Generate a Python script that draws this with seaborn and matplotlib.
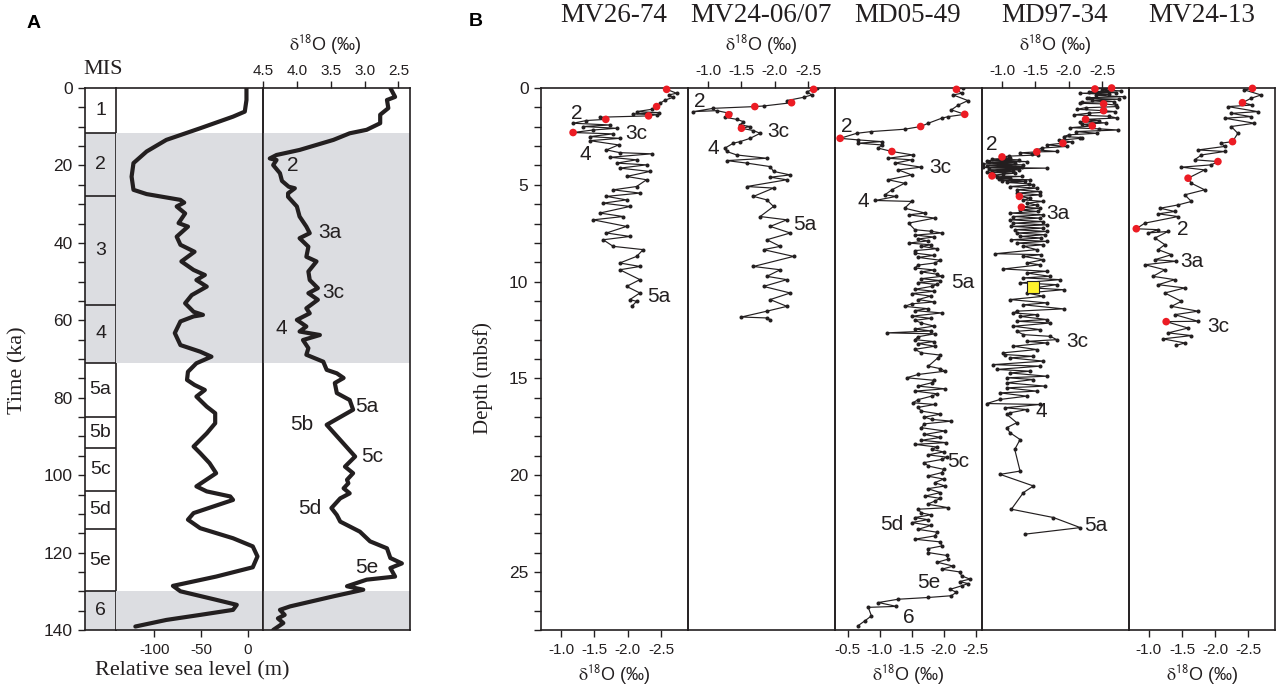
import matplotlib
matplotlib.use("Agg")
import matplotlib.pyplot as plt
from matplotlib.ticker import MultipleLocator, FormatStrFormatter
import seaborn as sns

# ---------------- DATA ----------------
# Panel A : marine isotope stages (ka)
mis_bounds = [0, 11.5, 28, 56, 71, 85, 93, 104, 114, 130, 140]
mis_names = ["1", "2", "3", "4", "5a", "5b", "5c", "5d", "5e", "6"]
glacial_spans = [(11.5, 71), (130, 140)]

# relative sea level (m) vs time (ka)
sl_time = [0, 3.1, 6.1, 7.4, 10.4, 13.4, 16.4, 19.4, 22.9, 26.3, 27.4, 28.9, 29.6, 30.6, 32.4,
           34.9, 35.8, 38.4, 40.5, 42.3, 44.8, 47.0, 48.3, 49.6, 51.3, 53.5, 55.6, 57.8, 58.6, 59.0,
           60.3, 63.3, 66.4, 68.1, 69.4, 71.1, 73.3, 75.4, 76.7, 78.0, 79.7, 82.3, 84.0, 86.6, 89.2,
           92.6, 94.3, 96.9, 99.5, 102.9, 104.2, 105.5, 106.4, 108.1, 109.8, 111.5, 113.7, 116.3, 118.4, 121.0,
           123.8, 126.2, 128.6, 130.0, 132.2, 133.5, 134.8, 136.1, 137.4, 139.1]
sl_level = [-1.7, -1.7, -3.5, -16, -51, -87, -108, -122, -124, -122, -108, -72, -68, -76, -67,
            -74, -64, -76, -72, -57, -71, -58, -46, -55, -44, -60, -67, -58, -48, -58,
            -72, -78, -72, -51, -39, -55, -64, -65, -57, -46, -55, -44, -35, -35, -44,
            -58, -51, -41, -34, -55, -44, -19, -16, -37, -58, -64, -51, -16, 5, 10,
            5, -34, -80, -72, -34, -12, -16, -51, -87, -120]

# benthic d18O stack (per mil) vs time (ka)
bd_time = [0, 2.3, 3.1, 5.2, 6.9, 9.1, 10.8, 11.7, 13.4, 16.0, 17.3, 18.2, 18.6, 19.9, 22.0,
           24.0, 25.5, 25.9, 27.2, 28.1, 30.6, 33.2, 35.8, 37.5, 38.8, 41.0, 43.6, 44.8, 47.4, 49.6,
           51.7, 53.0, 54.7, 56.9, 58.2, 59.9, 61.6, 62.9, 63.8, 65.1, 67.2, 68.9, 70.7, 72.8, 73.7,
           74.9, 76.2, 78.8, 80.6, 83.1, 84.0, 87.0, 90.9, 95.2, 97.8, 99.5, 101.2, 102.1, 103.4, 104.7,
           106.0, 108.5, 110.3, 112.0, 114.6, 117.1, 118.9, 121.4, 122.8, 124.0, 126.2, 127.0, 128.7, 129.6, 131.3,
           133.9, 134.8, 136.1, 137.0, 138.2, 140.0]
bd_value = [2.62, 2.55, 2.67, 2.65, 2.77, 2.77, 2.97, 3.22, 3.46, 3.96, 4.30, 4.40, 4.30, 4.35, 4.25,
            4.22, 4.12, 4.03, 4.13, 4.13, 4.00, 3.96, 3.86, 3.81, 3.96, 3.83, 3.86, 3.71, 3.83, 3.81,
            3.69, 3.83, 3.69, 3.86, 3.81, 4.00, 3.86, 3.96, 3.66, 3.91, 3.83, 3.86, 3.61, 3.56, 3.41,
            3.31, 3.44, 3.41, 3.22, 3.17, 3.26, 3.56, 3.36, 3.14, 3.29, 3.17, 3.26, 3.24, 3.31, 3.22,
            3.36, 3.49, 3.41, 3.36, 3.07, 2.92, 2.67, 2.62, 2.45, 2.62, 2.55, 2.97, 3.26, 3.02, 3.46,
            4.10, 4.25, 4.18, 4.28, 4.20, 4.35]

bd_labels = ["2", "3a", "3c", "4", "5a", "5b", "5c", "5d", "5e"]
bd_label_v = [4.06, 3.51, 3.46, 4.23, 2.97, 3.93, 2.89, 3.81, 2.97]
bd_label_t = [19.9, 37.4, 52.7, 62.0, 82.3, 87.0, 95.3, 108.5, 123.8]

# Panel B : cores, d18O (per mil) vs depth (mbsf)
cores = ["MV26-74", "MV24-06/07", "MD05-49", "MD97-34", "MV24-13"]

mv2674_v = [-2.58, -2.73, -2.61, -2.68, -2.56, -2.48, -2.43, -2.36, -2.13, -2.46, -2.08, -2.43, -2.31, -1.58,
            -1.67, -1.38, -1.18, -1.73, -1.33, -1.83, -1.48, -1.18, -1.78, -1.43, -1.88, -1.43, -1.86, -1.68,
            -1.88, -2.36, -1.73, -2.13, -1.83, -2.28, -1.88, -2.33, -1.98, -2.28, -2.13, -1.78, -2.18, -1.68,
            -1.98, -1.63, -2.03, -1.58, -1.93, -1.48, -1.98, -1.68, -2.03, -1.63, -1.78, -2.23, -2.13, -1.88,
            -2.18, -1.88, -2.18, -1.98, -2.18, -2.03, -2.13, -2.06]
mv2674_d = [0.07, 0.27, 0.36, 0.48, 0.62, 0.79, 0.96, 1.10, 1.22, 1.27, 1.34, 1.38, 1.44, 1.51,
            1.62, 1.68, 1.82, 1.91, 1.99, 2.08, 2.17, 2.30, 2.37, 2.51, 2.60, 2.72, 2.94, 3.20,
            3.34, 3.40, 3.58, 3.71, 3.88, 3.97, 4.14, 4.31, 4.57, 4.74, 5.09, 5.26, 5.43, 5.60,
            5.78, 5.95, 6.12, 6.46, 6.64, 6.81, 7.15, 7.49, 7.67, 7.84, 8.18, 8.35, 8.70, 9.04,
            9.22, 9.39, 9.90, 10.25, 10.59, 10.93, 11.02, 11.28]
mv2674_red_v = [-2.58, -2.43, -2.31, -1.67, -1.18]
mv2674_red_d = [0.07, 0.96, 1.44, 1.62, 2.30]

mv2407_v = [-2.63, -2.58, -2.48, -2.55, -2.43, -2.18, -2.25, -1.83, -1.70, -1.08, -0.78, -1.13, -1.33, -1.31,
            -1.25, -1.43, -1.53, -1.48, -1.63, -1.50, -1.68, -1.78, -1.63, -1.48, -1.38, -1.25, -1.28, -1.43,
            -1.88, -1.28, -1.58, -1.93, -1.98, -2.23, -1.93, -2.18, -1.58, -1.98, -1.68, -1.88, -1.98, -1.78,
            -2.18, -1.93, -2.23, -1.88, -2.08, -1.83, -2.28, -1.68, -2.08, -1.88, -2.18, -1.83, -2.23, -1.93,
            -2.18, -1.88, -1.50, -1.88, -1.93]
mv2407_d = [0.00, 0.07, 0.19, 0.36, 0.48, 0.65, 0.76, 0.93, 0.96, 1.05, 1.22, 1.17, 1.31, 1.38,
            1.51, 1.62, 1.74, 1.91, 1.99, 2.08, 2.20, 2.34, 2.60, 2.77, 2.85, 3.11, 3.28, 3.46,
            3.63, 3.75, 3.88, 4.06, 4.31, 4.49, 4.61, 4.74, 5.09, 5.17, 5.60, 5.78, 6.12, 6.64,
            6.81, 7.15, 7.49, 7.84, 8.18, 8.35, 8.70, 9.22, 9.39, 9.73, 9.90, 10.25, 10.59, 10.93,
            11.28, 11.53, 11.83, 11.88, 11.97]
mv2407_red_v = [-2.58, -2.25, -1.70, -1.31, -1.50]
mv2407_red_d = [0.07, 0.76, 0.96, 1.38, 2.08]

md0549_d = [0.00, 0.07, 0.27, 0.36, 0.65, 0.88, 1.13, 1.36, 1.48, 1.56, 1.82, 1.99, 2.13, 2.25,
            2.34, 2.60, 2.68, 2.77, 2.85, 2.94, 3.11, 3.28, 3.46, 3.63, 3.71, 3.88, 4.09, 4.23,
            4.49, 4.74, 4.92, 5.26, 5.52, 5.60, 5.81, 5.86, 6.21, 6.46, 6.55, 6.72, 6.98,
            7.32, 7.40, 7.49, 7.60, 7.70, 7.80, 7.90, 8.01, 8.10, 8.18, 8.30, 8.40, 8.53, 8.65, 8.75, 8.90,
            9.04, 9.15, 9.30, 9.40, 9.50, 9.62, 9.73, 9.85, 9.95, 10.05, 10.15, 10.25, 10.40, 10.50, 10.62,
            10.75, 10.93, 11.05, 11.15, 11.28, 11.40, 11.50, 11.62, 11.79, 11.90, 12.00, 12.14, 12.30, 12.45,
            12.55, 12.65, 12.70, 12.85, 13.00, 13.10, 13.20, 13.34, 13.50, 13.68, 13.80, 13.94,
            14.37, 14.50, 14.63, 14.80, 14.97, 15.10, 15.23, 15.40, 15.54, 15.66, 15.80, 15.92, 16.10, 16.26,
            16.35, 16.50, 16.69, 16.85, 17.00, 17.12, 17.21, 17.35, 17.55, 17.72, 17.90, 18.05, 18.20, 18.32,
            18.41, 18.55, 18.67, 18.80, 18.95, 19.07, 19.19, 19.35, 19.53, 19.70, 19.87, 20.05, 20.20, 20.39,
            20.56, 20.70, 20.90, 21.08, 21.20, 21.34, 21.50, 21.68, 21.76, 21.95, 22.05, 22.19, 22.30, 22.45,
            22.60, 22.80, 22.95, 23.14, 23.31, 23.45, 23.66, 23.80, 24.00, 24.15, 24.34, 24.50, 24.70, 24.86,
            25.00, 25.20, 25.37, 25.50, 25.60, 25.72, 25.90, 26.05, 26.23, 26.32, 26.41, 26.58, 26.78, 26.83,
            27.27, 27.52, 27.78]
md0549_v = [-2.31, -2.20, -2.28, -2.15, -2.38, -2.23, -2.12, -2.33, -2.07, -1.97, -1.76, -1.64, -1.39, -0.87,
            -0.64, -0.38, -0.66, -1.03, -0.66, -1.03, -0.98, -1.19, -1.52, -1.13, -1.50, -1.24, -1.65, -1.29,
            -1.50, -1.13, -1.39, -1.19, -1.08, -1.26, -0.93, -1.50, -1.39, -1.71, -1.45, -1.86, -1.45,
            -1.55, -1.80, -1.97, -1.55, -1.85, -1.60, -1.75, -1.45, -1.80, -1.65, -1.90, -1.55, -1.55, -1.85, -1.60, -1.95,
            -1.86, -1.60, -1.55, -1.85, -1.65, -1.90, -1.97, -1.65, -1.95, -1.60, -1.90, -1.81, -1.55, -1.85, -1.50,
            -1.80, -1.60, -1.85, -1.50, -1.39, -1.75, -1.55, -1.97, -1.50, -1.80, -1.55, -1.65, -1.85, -1.55,
            -1.80, -1.11, -1.86, -1.60, -1.55, -1.85, -1.60, -1.86, -1.55, -1.65, -1.95, -1.91,
            -1.76, -1.95, -2.02, -1.60, -1.42, -1.85, -1.81, -1.60, -2.02, -1.55, -1.90, -1.81, -1.60, -1.52,
            -1.86, -1.60, -1.65, -1.95, -1.70, -1.81, -2.12, -1.70, -1.65, -2.02, -1.70, -1.95, -1.65, -2.04,
            -1.55, -1.90, -1.81, -2.00, -1.75, -2.05, -1.97, -1.70, -1.76, -2.00, -1.97, -1.75, -2.00, -1.86,
            -2.02, -1.75, -1.95, -1.71, -1.95, -1.86, -1.75, -2.07, -1.60, -1.65, -1.80, -1.55, -1.75, -1.50,
            -1.80, -1.60, -1.90, -1.86, -1.55, -1.95, -1.97, -1.75, -1.76, -2.05, -2.07, -1.90, -2.15, -1.97,
            -2.25, -2.28, -2.41, -2.25, -2.38, -2.28, -2.10, -2.20, -2.12, -1.76, -1.29, -0.98, -1.26, -0.82,
            -0.87, -0.77, -0.66]
md0549_red_v = [-2.20, -2.33, -1.64, -0.38, -1.19]
md0549_red_d = [0.07, 1.36, 1.99, 2.60, 3.28]

md9734_d = [0.05, 0.00, 0.10, 0.15, 0.19, 0.24, 0.27, 0.33, 0.38, 0.45, 0.50, 0.53, 0.58, 0.63, 0.70,
            0.74, 0.79, 0.82, 0.88, 0.96, 1.02, 1.10, 1.17, 1.22, 1.30, 1.39, 1.46, 1.55, 1.62, 1.68,
            1.74, 1.80, 1.88, 1.96, 2.05, 2.11, 2.17, 2.25, 2.34, 2.42, 2.51, 2.56, 2.60, 2.70, 2.78,
            2.85, 2.94, 3.02, 3.10, 3.20, 3.28, 3.30, 3.35, 3.40, 3.46, 3.52, 3.56,
            3.63, 3.67, 3.71, 3.75, 3.80, 3.84, 3.88, 3.92, 3.97, 4.01, 4.06, 4.10, 4.14, 4.19, 4.23,
            4.27, 4.31, 4.36, 4.40, 4.45, 4.50, 4.54, 4.57, 4.62, 4.66, 4.70, 4.74, 4.79, 4.83, 4.88,
            4.95, 5.00, 5.09, 5.17, 5.26, 5.35, 5.43, 5.52, 5.60, 5.69, 5.78, 5.86, 5.95, 6.04, 6.16,
            6.21, 6.30, 6.38, 6.46, 6.55, 6.64, 6.72, 6.81, 6.90, 6.98, 7.07, 7.15, 7.24, 7.32, 7.41,
            7.49, 7.58, 7.67, 7.75, 7.84, 7.92, 8.01, 8.10, 8.18, 8.35, 8.56, 8.61, 8.70, 8.87, 9.04,
            9.13, 9.35, 9.47, 9.56, 9.73, 9.81, 9.90, 10.07, 10.16, 10.33, 10.42, 10.59, 10.76, 10.93, 11.10,
            11.20, 11.41, 11.53, 11.62, 11.71, 11.80, 11.96, 12.05, 12.14, 12.31, 12.48, 12.57, 12.74, 12.83,
            13.00, 13.09, 13.17, 13.34, 13.51, 13.68, 13.77, 13.86, 13.94, 14.11, 14.29, 14.37, 14.54, 14.63,
            14.72, 14.89, 14.97, 15.06, 15.23, 15.40, 15.49, 15.66, 15.75, 15.92, 16.09, 16.30, 16.35, 16.52,
            16.61, 16.78, 16.86, 17.29, 17.55, 17.81, 18.16, 18.67, 19.79, 19.96, 20.56, 20.90, 21.76, 22.19,
            22.71, 23.05]
md9734_v = [-2.39, -2.64, -2.50, -2.78, -2.30, -2.70, -2.17, -2.60, -2.40, -2.82, -2.30, -2.27, -2.75, -2.35, -2.67,
            -2.20, -2.17, -2.52, -2.70, -2.72, -2.25, -2.12, -2.52, -2.69, -2.30, -2.07, -2.60, -2.72, -2.25, -2.45,
            -2.17, -2.55, -2.20, -2.35, -2.02, -2.45, -2.74, -2.10, -2.42, -2.00, -1.92, -2.20, -2.17, -1.85, -2.05,
            -1.91, -1.67, -1.97, -1.60, -1.52, -1.82, -1.52, -1.27, -1.45, -1.54, -1.10, -1.00,
            -1.12, -0.85, -1.25, -0.77, -1.37, -0.80, -1.20, -0.72, -1.32, -0.78, -1.30, -0.72, -1.67, -0.80, -1.25,
            -0.85, -1.17, -0.78, -1.20, -1.02, -0.88, -0.85, -1.30, -0.92, -1.12, -0.95, -1.42, -1.00, -1.35, -1.07,
            -1.40, -1.47, -1.12, -1.52, -1.22, -1.57, -1.22, -1.57, -1.26, -1.42, -1.32, -1.62, -1.37, -1.52, -1.29,
            -1.57, -1.27, -1.54, -1.12, -1.62, -1.17, -1.57, -1.12, -1.62, -1.17, -1.67, -1.14, -1.62, -1.19, -1.67,
            -1.22, -1.64, -1.27, -1.59, -1.14, -1.67, -1.22, -1.62, -1.32, -1.52, -0.90, -1.59, -1.32, -1.62, -1.37,
            -1.57, -1.02, -1.67, -1.37, -1.72, -1.32, -1.87, -1.27, -1.82, -1.47, -1.92, -1.37, -1.62, -1.12, -1.67,
            -1.32, -1.92, -1.22, -1.17, -1.52, -1.27, -1.67, -1.22, -1.72, -1.17, -1.57, -1.22, -1.32, -1.72,
            -1.82, -1.37, -1.67, -1.17, -1.52, -1.02, -1.04, -1.47, -1.12, -1.62, -0.87, -1.57, -0.92, -1.42,
            -1.12, -1.67, -1.07, -1.47, -1.07, -1.64, -1.07, -1.52, -0.97, -1.37, -0.97, -0.77, -1.57, -1.04,
            -1.37, -1.12, -1.07, -1.22, -1.07, -1.12, -1.27, -1.19, -1.27, -0.97, -1.47, -1.32, -1.14, -1.77,
            -2.17, -1.34]
md9734_red_v = [-2.39, -2.64, -2.52, -2.52, -2.25, -2.35, -1.91, -1.52, -1.00, -0.85, -1.26, -1.29]
md9734_red_d = [0.05, 0.00, 0.82, 1.17, 1.62, 1.96, 2.85, 3.30, 3.56, 4.54, 5.60, 6.16]
md9734_sq_v = [-1.47]
md9734_sq_d = [10.28]

mv2413_v = [-2.56, -2.44, -2.69, -2.54, -2.41, -2.56, -2.19, -2.64, -2.24, -2.54, -2.14, -2.59, -2.24, -2.34,
            -2.26, -2.09, -2.14, -1.74, -2.14, -1.79, -1.69, -2.04, -1.94, -1.49, -1.84, -1.59, -1.64, -1.84,
            -1.54, -1.64, -1.44, -1.17, -1.39, -1.14, -1.44, -0.94, -0.81, -1.14, -0.99, -1.29, -1.09, -1.24,
            -1.14, -1.34, -1.09, -1.41, -0.94, -1.24, -1.06, -1.39, -1.14, -1.54, -1.24, -1.49, -1.34, -1.74,
            -1.39, -1.74, -1.26, -1.59, -1.29, -1.64, -1.21, -1.54, -1.41]
mv2413_d = [0.02, 0.10, 0.36, 0.53, 0.76, 0.88, 0.96, 1.22, 1.31, 1.48, 1.56, 1.82, 1.99, 2.34,
            2.77, 2.85, 3.02, 3.20, 3.28, 3.46, 3.71, 3.80, 3.97, 4.09, 4.23, 4.66, 4.92, 5.26,
            5.52, 5.86, 6.04, 6.21, 6.38, 6.50, 6.64, 6.98, 7.27, 7.32, 7.49, 7.41, 7.75, 8.09,
            8.35, 8.61, 8.87, 8.95, 9.13, 9.39, 9.73, 9.90, 10.16, 10.33, 10.59, 11.02, 11.28, 11.53,
            11.71, 12.05, 12.07, 12.40, 12.65, 12.79, 12.96, 13.17, 13.30]
mv2413_red_v = [-2.56, -2.41, -2.26, -2.04, -1.59, -0.81, -1.26]
mv2413_red_d = [0.02, 0.76, 2.77, 3.80, 4.66, 7.27, 12.07]

core_v = [mv2674_v, mv2407_v, md0549_v, md9734_v, mv2413_v]
core_d = [mv2674_d, mv2407_d, md0549_d, md9734_d, mv2413_d]
core_red_v = [mv2674_red_v, mv2407_red_v, md0549_red_v, md9734_red_v, mv2413_red_v]
core_red_d = [mv2674_red_d, mv2407_red_d, md0549_red_d, md9734_red_d, mv2413_red_d]

core_labels = [
    (["2", "3c", "4", "5a"], [-1.23, -2.13, -1.36, -2.46], [1.31, 2.34, 3.46, 10.76]),
    (["2", "3c", "4", "5a"], [-0.88, -2.05, -1.08, -2.45], [0.70, 2.25, 3.11, 7.07]),
    (["2", "3c", "4", "5a", "5c", "5d", "5e", "6"],
     [-0.48, -1.94, -0.74, -2.30, -2.23, -1.19, -1.76, -1.45],
     [2.00, 4.09, 5.86, 10.07, 19.27, 22.54, 25.55, 27.35]),
    (["2", "3a", "3c", "4", "5a"], [-0.85, -1.84, -2.12, -1.59, -2.41], [2.94, 6.46, 13.08, 16.69, 22.62]),
    (["2", "3a", "3c"], [-1.51, -1.64, -2.04], [7.32, 8.96, 12.31]),
]
core_xticks = [[-1.0, -1.5, -2.0, -2.5], [-1.0, -1.5, -2.0, -2.5], [-0.5, -1.0, -1.5, -2.0, -2.5],
               [-1.0, -1.5, -2.0, -2.5], [-1.0, -1.5, -2.0, -2.5]]
core_xlim = [(-0.7, -2.9), (-0.7, -2.9), (-0.3, -2.6), (-0.7, -2.9), (-0.7, -2.9)]
core_tick_side = ["bottom", "top", "bottom", "top", "bottom"]

# ---------------- STYLE ----------------
sns.set_theme(style="ticks")
plt.rcParams["font.family"] = ["Liberation Sans", "DejaVu Sans"]
plt.rcParams["mathtext.fontset"] = "stix"
plt.rcParams["axes.unicode_minus"] = False

INK = "#231f20"
SHADE = "#dcdde1"
RED = "#ec1c24"
SERIF = ["Liberation Serif", "DejaVu Serif"]
D18_LABEL = r"$\mathrm{\delta}^{\mathsf{18}}$O (‰)"

W, H = 1276, 688
fig = plt.figure(figsize=(W / 100, H / 100), dpi=100)
fig.patch.set_facecolor("white")


def box(x0, x1, y0=88, y1=630):
    return [x0 / W, 1 - y1 / H, (x1 - x0) / W, (y1 - y0) / H]


def ftext(x, y, s, **kw):
    fig.text(x / W, 1 - y / H, s, **kw)


def style_ax(ax):
    for sp in ax.spines.values():
        sp.set_visible(True)
        sp.set_linewidth(1.2)
        sp.set_color(INK)
    ax.set_facecolor("none")
    ax.tick_params(which="both", direction="out", length=5, width=1.0, color=INK, labelcolor=INK)


# ---------------- PANEL A ----------------
ax_mis = fig.add_axes(box(85, 116))
ax_sl = fig.add_axes(box(116, 263), sharey=ax_mis)
ax_bd = fig.add_axes(box(263, 410), sharey=ax_mis)

for ax in (ax_mis, ax_sl, ax_bd):
    style_ax(ax)
    for a, b in glacial_spans:
        ax.axhspan(a, b, color=SHADE, zorder=0, lw=0)

ax_mis.set_xlim(0, 1)
ax_mis.yaxis.set_major_locator(MultipleLocator(20))
ax_mis.yaxis.set_minor_locator(MultipleLocator(5))
ax_mis.tick_params(axis="y", labelsize=12.5, pad=4)
ax_mis.tick_params(axis="x", bottom=False, top=False, labelbottom=False)
ax_mis.hlines(mis_bounds[1:-1], 0, 1, color=INK, lw=1.2)
for i, name in enumerate(mis_names):
    ax_mis.text(0.5, (mis_bounds[i] + mis_bounds[i + 1]) / 2, name, ha="center", va="center",
                fontsize=14, color=INK)

sns.lineplot(x=sl_level, y=sl_time, sort=False, estimator=None, ax=ax_sl, color=INK,
             lw=3.0, solid_joinstyle="round", solid_capstyle="round")
ax_sl.set_xlim(-140.6, 15.9)
ax_sl.set_xticks([-100, -50, 0])
ax_sl.spines["left"].set_visible(False)
ax_sl.tick_params(axis="y", left=False, labelleft=False, which="both")
ax_sl.tick_params(axis="x", labelsize=11, pad=4)
ax_sl.set_ylabel("")
ax_sl.set_xlabel("")

sns.lineplot(x=bd_value, y=bd_time, sort=False, estimator=None, ax=ax_bd, color=INK,
             lw=3.0, solid_joinstyle="round", solid_capstyle="round")
ax_bd.set_xlim(4.5, 2.33)
ax_bd.set_xticks([4.5, 4.0, 3.5, 3.0, 2.5])
ax_bd.xaxis.set_major_formatter(FormatStrFormatter("%.1f"))
ax_bd.xaxis.tick_top()
ax_bd.tick_params(axis="x", labelsize=11, pad=2)
ax_bd.tick_params(axis="y", left=False, labelleft=False, which="both")
ax_bd.set_ylabel("")
ax_bd.set_xlabel("")
for s, v, t in zip(bd_labels, bd_label_v, bd_label_t):
    ax_bd.text(v, t, s, ha="center", va="center", fontsize=15, color=INK)
ax_mis.set_ylim(140, 0)

# ---------------- PANEL B ----------------
left = 541
axes_b = []
for i in range(5):
    x0 = left + 147 * i
    x1 = x0 + 147 if i < 4 else 1275
    ax = fig.add_axes(box(x0, x1), sharey=axes_b[0] if axes_b else None)
    style_ax(ax)
    axes_b.append(ax)
    sns.lineplot(x=core_v[i], y=core_d[i], sort=False, estimator=None, ax=ax, color=INK,
                 lw=0.85, marker="o", markersize=2.9, markeredgewidth=0, markerfacecolor=INK)
    sns.scatterplot(x=core_red_v[i], y=core_red_d[i], ax=ax, color=RED, s=30, edgecolor="none",
                    zorder=5, clip_on=False)
    if i == 3:
        sns.scatterplot(x=md9734_sq_v, y=md9734_sq_d, ax=ax, color="#fff22d", marker="s", s=75,
                        edgecolor=INK, linewidth=0.8, zorder=6)
    ax.set_xlim(*core_xlim[i])
    ax.set_xticks(core_xticks[i])
    ax.xaxis.set_major_formatter(FormatStrFormatter("%.1f"))
    if core_tick_side[i] == "top":
        ax.xaxis.tick_top()
        ax.tick_params(axis="x", labelsize=11, pad=2)
    else:
        ax.tick_params(axis="x", labelsize=11, pad=4)
    names, lv, ld = core_labels[i]
    for s, v, d in zip(names, lv, ld):
        ax.text(v, d, s, ha="center", va="center", fontsize=15, color=INK)
    ax.set_xlabel("")
    ax.set_ylabel("")
    if i > 0:
        ax.tick_params(axis="y", left=False, labelleft=False, which="both")

axes_b[0].set_ylim(28, 0)
axes_b[0].yaxis.set_major_locator(MultipleLocator(5))
axes_b[0].yaxis.set_minor_locator(MultipleLocator(1))
axes_b[0].tick_params(axis="y", labelsize=12.5, pad=4)

# ---------------- TEXT ----------------
ftext(34, 23, "A", ha="center", va="center", fontsize=14, fontweight="bold", color="black")
ftext(476, 22, "B", ha="center", va="center", fontsize=14, fontweight="bold", color="black")
ftext(103, 70, "MIS", ha="center", va="center", fontsize=16, family=SERIF, color=INK)
ftext(325, 45, D18_LABEL, ha="center", va="center", fontsize=13, color=INK)
ftext(192, 671, "Relative sea level (m)", ha="center", va="center", fontsize=16, family=SERIF, color=INK)
ftext(18, 370, "Time (ka)", ha="center", va="center", rotation=90, fontsize=16, family=SERIF, color=INK)
ftext(483, 378, "Depth (mbsf)", ha="center", va="center", rotation=90, fontsize=15, family=SERIF, color=INK)

title_x = [614, 761, 908, 1055, 1202]
for name, x in zip(cores, title_x):
    ftext(x, 15, name, ha="center", va="center", fontsize=19.5, family=SERIF, color=INK)
for i, x in enumerate(title_x):
    if core_tick_side[i] == "top":
        ftext(x, 45, D18_LABEL, ha="center", va="center", fontsize=13, color=INK)
    else:
        ftext(x, 675, D18_LABEL, ha="center", va="center", fontsize=13, color=INK)

fig.savefig("out.png", dpi=100)
